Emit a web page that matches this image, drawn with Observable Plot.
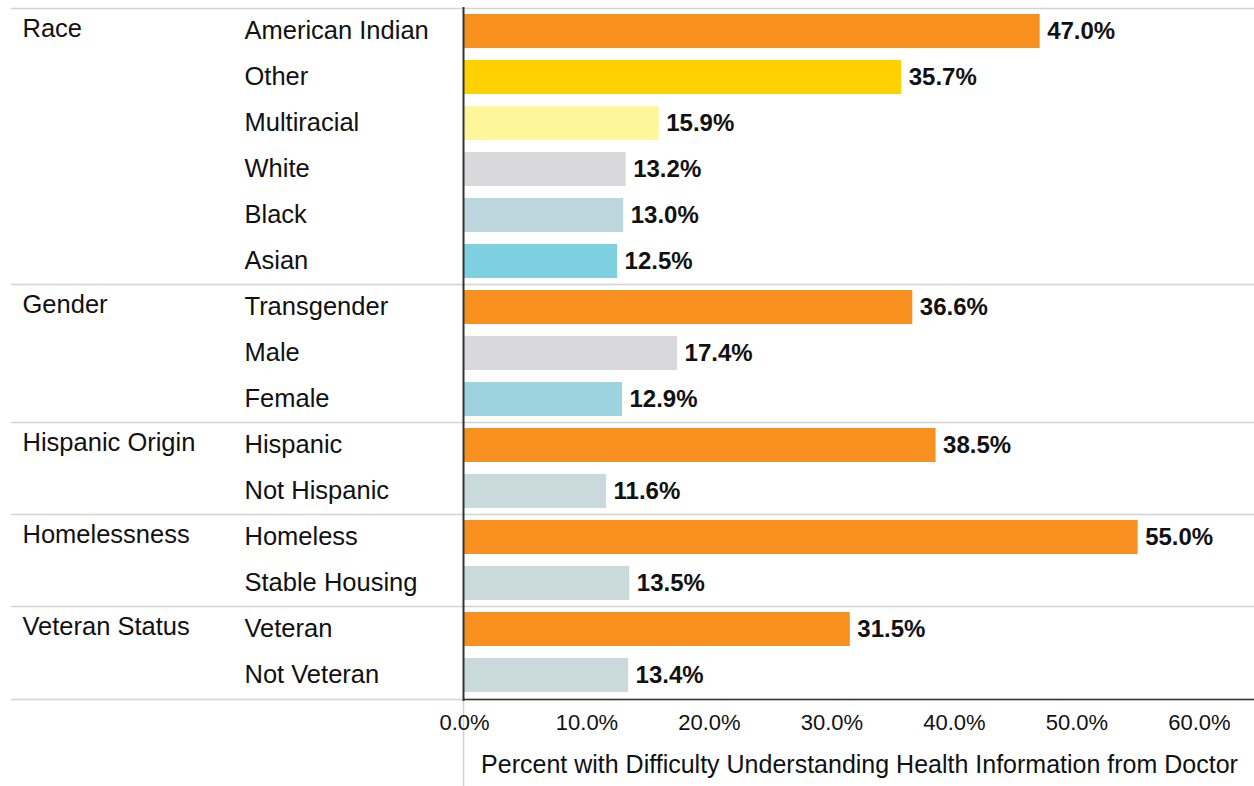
<!DOCTYPE html>
<html>
<head>
<meta charset="utf-8">
<script src="https://cdn.jsdelivr.net/npm/d3@7"></script>
<script src="https://cdn.jsdelivr.net/npm/@observablehq/plot@0.6"></script>
<style>
  html, body { margin: 0; padding: 0; background: #fff; }
  #chart svg { display: block; font-family: "Liberation Sans", Arial, sans-serif; }
  #chart svg g[aria-label="x-axis label"] text { font-size: 25px; }
</style>
</head>
<body>
<div id="chart"></div>
<script>
const groups = ["Race", "Race", "Race", "Race", "Race", "Race",
  "Gender", "Gender", "Gender",
  "Hispanic Origin", "Hispanic Origin",
  "Homelessness", "Homelessness",
  "Veteran Status", "Veteran Status"];
const items = ["American Indian", "Other", "Multiracial", "White", "Black", "Asian",
  "Transgender", "Male", "Female",
  "Hispanic", "Not Hispanic",
  "Homeless", "Stable Housing",
  "Veteran", "Not Veteran"];
const values = [47.0, 35.7, 15.9, 13.2, 13.0, 12.5,
  36.6, 17.4, 12.9,
  38.5, 11.6,
  55.0, 13.5,
  31.5, 13.4];
const colors = ["#F7901E", "#FFD100", "#FFF59A", "#D9D9DB", "#BDD5DC", "#7ECFE0",
  "#F7901E", "#D9D9DB", "#9DD3DF",
  "#F7901E", "#CAD9DC",
  "#F7901E", "#CAD9DC",
  "#F7901E", "#CAD9DC"];
const xTicks = [0, 10, 20, 30, 40, 50, 60];
const xTitle = "Percent with Difficulty Understanding Health Information from Doctor";

const data = items.map((item, i) => ({group: groups[i], item, value: values[i], color: colors[i]}));
const groupFirst = data.filter((d, i) => i === 0 || groups[i - 1] !== d.group);
const lastRow = [data[data.length - 1]];

const W = 1254, H = 786;
const mTop = 7, mBottom = 86, mLeft = 464, mRight = 0;
const step = (H - mTop - mBottom) / items.length;
const fmt = d => d.toFixed(1) + "%";

const chart = Plot.plot({
  width: W,
  height: H,
  marginTop: mTop,
  marginBottom: mBottom,
  marginLeft: mLeft,
  marginRight: mRight,
  style: {fontFamily: "'Liberation Sans', Arial, sans-serif", color: "#111", background: "#fff"},
  x: {domain: [0, 64.5], ticks: xTicks, tickFormat: fmt, label: xTitle, labelAnchor: "center", labelArrow: "none"},
  y: {domain: items, paddingInner: 0.26, paddingOuter: 0.13, axis: null},
  color: {type: "identity"},
  marks: [
    Plot.ruleY(groupFirst, {y: "item", dy: -step / 2, stroke: "#d3d3d3", strokeWidth: 1.5, insetLeft: -453}),
    Plot.ruleY(lastRow, {y: "item", dy: step / 2 + 1, stroke: "#d3d3d3", strokeWidth: 1.5, insetLeft: -453}),
    Plot.ruleY(lastRow, {y: "item", dy: step / 2 + 1, stroke: "#333", strokeWidth: 1.5}),
    Plot.barX(data, {x: "value", y: "item", fill: "color"}),
    Plot.ruleX([0], {stroke: "#d3d3d3", strokeWidth: 1.5, insetTop: H - mTop - mBottom, insetBottom: -mBottom, dx: -1}),
    Plot.ruleX([0], {stroke: "#333", strokeWidth: 2, dx: -1, insetBottom: -1}),
    Plot.text(data, {x: "value", y: "item", text: d => fmt(d.value), dx: 7, textAnchor: "start", fontWeight: "bold", fontSize: 24, fill: "#111"}),
    Plot.text(data, {x: 0, y: "item", text: "item", dx: -220, textAnchor: "start", fontSize: 25.5, fill: "#111", dy: -1}),
    Plot.text(groupFirst, {x: 0, y: "item", text: "group", dx: -442, textAnchor: "start", fontSize: 25.5, fill: "#111", dy: -3}),
    Plot.axisX({ticks: xTicks, tickFormat: fmt, tickSize: 0, tickPadding: 14, fontSize: 22, label: xTitle, labelAnchor: "center", labelArrow: "none", labelOffset: 72})
  ]
});
document.getElementById("chart").appendChild(chart);
</script>
</body>
</html>
